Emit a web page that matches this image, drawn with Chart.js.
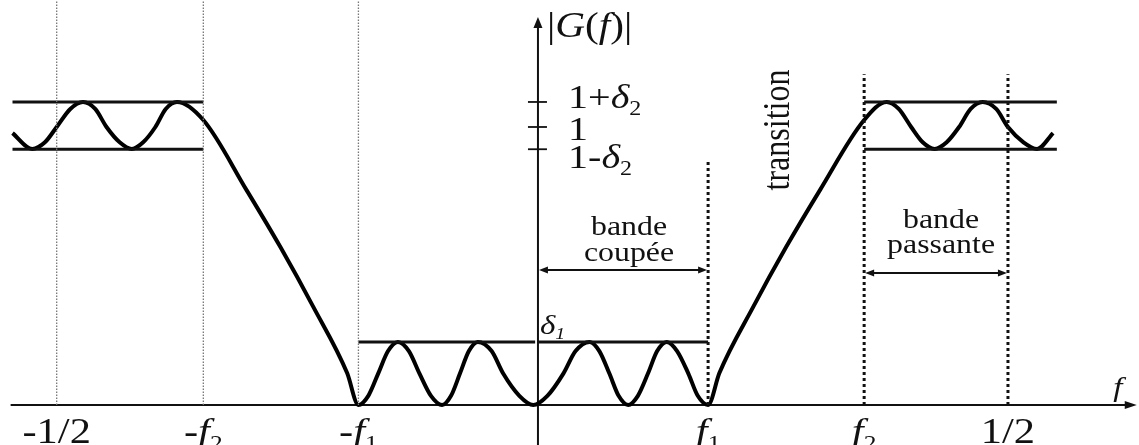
<!DOCTYPE html>
<html><head><meta charset="utf-8">
<script src="https://cdn.jsdelivr.net/npm/chart.js@4/dist/chart.umd.min.js"></script>
<style>html,body{margin:0;padding:0;background:#fff}#wrap{width:1139px;height:445px;position:relative}</style>
</head><body><div id="wrap"><canvas id="c"></canvas></div>
<script>
// |G(f)| (normalised frequency, 1/2 = 0.5)
const freq = [
  -0.559, -0.538, -0.5245, -0.512, -0.4975, -0.484, -0.471, -0.459, -0.445, -0.432,
  -0.420, -0.407, -0.396, -0.384, -0.356, -0.310, -0.274, -0.239, -0.203, -0.191,
  -0.1805, -0.170, -0.1595, -0.149, -0.1373, -0.126, -0.1138, -0.102, -0.0925, -0.083,
  -0.0735, -0.064, -0.0493, -0.037, -0.0198, -0.005, 0.010, 0.027, 0.040, 0.055,
  0.0653, 0.076, 0.0858, 0.096, 0.1063, 0.117, 0.1268, 0.137, 0.148, 0.160,
  0.170, 0.181, 0.193, 0.229, 0.264, 0.300, 0.347, 0.371, 0.3838, 0.397,
  0.4093, 0.422, 0.4348, 0.448, 0.4603, 0.473, 0.4875, 0.500, 0.5165, 0.531,
  0.548];
const gain = [
  0.978, 0.921, 0.945, 1.0, 1.065, 1.09, 1.065, 1.0, 0.945, 0.921,
  0.945, 1.0, 1.065, 1.09, 1.025, 0.773, 0.568, 0.353, 0.115, 0,
  0.033, 0.113, 0.194, 0.227, 0.194, 0.113, 0.033, 0, 0.033, 0.113,
  0.194, 0.227, 0.194, 0.113, 0.033, 0, 0.033, 0.113, 0.194, 0.227,
  0.194, 0.113, 0.033, 0, 0.033, 0.113, 0.194, 0.227, 0.194, 0.113,
  0.033, 0, 0.115, 0.353, 0.568, 0.773, 1.025, 1.09, 1.065, 1.0,
  0.945, 0.921, 0.945, 1.0, 1.065, 1.09, 1.065, 1.0, 0.945, 0.921,
  0.978];

// characteristic frequencies
const xTickValues = [-0.512, -0.356, -0.191, 0.181, 0.347, 0.500];
const xTickLabels = ['-1/2', '-f_2', '-f_1', 'f_1', 'f_2', '1/2'];
// magnitude ticks
const yTickValues = [1.09, 1.0, 0.92];
const yTickLabels = ['1+δ_2', '1', '1-δ_2'];

// tolerance template
const passLow = 0.92, passHigh = 1.09, stopHigh = 0.227;
const leftPass = [-0.559, -0.356];
const rightPass = [0.347, 0.552];
const stopLeft = [-0.191, -0.003];
const stopRight = [0.0, 0.181];
// dotted markers: [frequency, top magnitude]
const thinMarkers = [[-0.512, 1.46], [-0.356, 1.46], [-0.191, 1.46]];
const boldMarkers = [[0.181, 0.874], [0.347, 1.19], [0.500, 1.19]];
// band arrows: [from, to, magnitude]
const stopArrow = [0.0, 0.181, 0.486];
const passArrow = [0.347, 0.500, 0.475];

const FONT = '"Liberation Serif","Times New Roman",serif';
const SX = 1.18;
const INK = '#111';

function seg(a, b, y) { return [{x: a, y: y}, {x: b, y: y}]; }
function vert(f, top) { return [{x: f, y: 0}, {x: f, y: top}]; }

const datasets = [];
thinMarkers.forEach(m => datasets.push({data: vert(m[0], m[1]), borderColor: '#777', borderWidth: 1.3, borderDash: [1.5, 1.5]}));
boldMarkers.forEach(m => datasets.push({data: vert(m[0], m[1]), borderColor: '#111', borderWidth: 3, borderDash: [3, 3]}));
[seg(leftPass[0], leftPass[1], passHigh), seg(leftPass[0], leftPass[1], passLow),
 seg(rightPass[0], rightPass[1], passHigh), seg(rightPass[0], rightPass[1], passLow),
 seg(stopLeft[0], stopLeft[1], stopHigh), seg(stopRight[0], stopRight[1], stopHigh)]
 .forEach(d => datasets.push({data: d, borderColor: INK, borderWidth: 3}));
datasets.push({data: freq.map((f, i) => ({x: f, y: gain[i]})), borderColor: '#000', borderWidth: 4,
  cubicInterpolationMode: 'monotone', borderJoinStyle: 'round'});
datasets.forEach(d => { d.pointRadius = 0; d.fill = false; d.clip = false; if (!d.cubicInterpolationMode) d.tension = 0; });

function tokens(str) {
  const out = [];
  for (let i = 0; i < str.length; i++) {
    const c = str[i];
    if (c === '_') { out.push({t: str[i + 1], sub: true}); i++; }
    else out.push({t: c, sub: false, it: 'fGδ'.includes(c)});
  }
  return out;
}
function drawRich(ctx, str, x, y, size, align, subItalic) {
  const tk = tokens(str);
  let total = 0;
  tk.forEach(o => {
    const s = o.sub ? size * 0.6 : size;
    o.font = ((o.it || (o.sub && subItalic)) ? 'italic ' : '') + s + 'px ' + FONT;
    ctx.font = o.font;
    o.w = ctx.measureText(o.t).width * SX;
    total += o.w;
  });
  let cx = align === 'center' ? x - total / 2 : x;
  ctx.textAlign = 'left'; ctx.textBaseline = 'alphabetic';
  tk.forEach(o => {
    ctx.save(); ctx.font = o.font;
    ctx.translate(cx, y + (o.sub ? size * 0.2 : 0)); ctx.scale(SX, 1);
    ctx.fillText(o.t, 0, 0); ctx.restore();
    cx += o.w;
  });
}
function arrowHead(ctx, x, y, dx, dy, len, hw) {
  ctx.beginPath();
  ctx.moveTo(x, y);
  ctx.lineTo(x - dx * len - dy * hw, y - dy * len + dx * hw);
  ctx.lineTo(x - dx * len + dy * hw, y - dy * len - dx * hw);
  ctx.closePath(); ctx.fill();
}

const diagram = {
  id: 'diagram',
  beforeDatasetsDraw(c) {
    const ctx = c.ctx, X = c.scales.x, Y = c.scales.y;
    const px = v => X.getPixelForValue(v), py = v => Y.getPixelForValue(v);
    ctx.save(); ctx.strokeStyle = INK; ctx.fillStyle = INK; ctx.lineWidth = 2;
    // f axis
    const x0 = px(-0.561), x1 = px(0.637), yb = py(0);
    ctx.beginPath(); ctx.moveTo(x0, yb); ctx.lineTo(x1 - 8, yb); ctx.stroke();
    arrowHead(ctx, x1, yb, 1, 0, 12, 4);
    // |G| axis
    const xa = px(0), yt = py(1.396);
    ctx.beginPath(); ctx.moveTo(xa, c.chartArea.bottom); ctx.lineTo(xa, yt + 8); ctx.stroke();
    arrowHead(ctx, xa, yt, 0, -1, 11, 4.5);
    // magnitude ticks
    ctx.lineWidth = 1.8;
    yTickValues.forEach(v => { ctx.beginPath(); ctx.moveTo(xa - 10, py(v)); ctx.lineTo(xa + 9, py(v)); ctx.stroke(); });
    // band arrows
    ctx.lineWidth = 2;
    [stopArrow, passArrow].forEach(a => {
      const xl = px(a[0]), xr = px(a[1]), ya = py(a[2]);
      ctx.beginPath(); ctx.moveTo(xl + 4, ya); ctx.lineTo(xr - 4, ya); ctx.stroke();
      arrowHead(ctx, xl + 1, ya, -1, 0, 9, 3.5);
      arrowHead(ctx, xr - 1, ya, 1, 0, 9, 3.5);
    });
    ctx.restore();
  },
  afterDatasetsDraw(c) {
    const ctx = c.ctx, X = c.scales.x, Y = c.scales.y;
    const px = v => X.getPixelForValue(v), py = v => Y.getPixelForValue(v);
    ctx.save(); ctx.fillStyle = INK;
    const yb = py(0), xa = px(0);
    xTickValues.forEach((v, i) => drawRich(ctx, xTickLabels[i], px(v), yb + 38, 36, 'center'));
    const yOff = [6, 13, 19];
    yTickValues.forEach((v, i) => drawRich(ctx, yTickLabels[i], xa + 30, py(v) + yOff[i], 34, 'left'));
    drawRich(ctx, '|G(f)|', xa + 9, 37, 35, 'left');
    drawRich(ctx, 'δ_1', xa + 2, py(stopHigh) - 8, 28, 'left', true);
    drawRich(ctx, 'f', px(0.612), yb - 9, 28, 'left');
    const cs = px((stopArrow[0] + stopArrow[1]) / 2) + 6;
    drawRich(ctx, 'bande', cs, py(stopArrow[2]) - 35, 27, 'center');
    drawRich(ctx, 'coupée', cs, py(stopArrow[2]) - 9, 27, 'center');
    const cp = px((passArrow[0] + passArrow[1]) / 2) + 5;
    drawRich(ctx, 'bande', cp, py(passArrow[2]) - 45, 27, 'center');
    drawRich(ctx, 'passante', cp, py(passArrow[2]) - 20, 27, 'center');
    // rotated "transition"
    ctx.save();
    ctx.translate(px((stopRight[1] + rightPass[0]) / 2) + 3, 130);
    ctx.rotate(-Math.PI / 2); ctx.scale(1, SX);
    ctx.font = '32px ' + FONT; ctx.textAlign = 'center'; ctx.textBaseline = 'alphabetic';
    ctx.fillText('transition', 0, 0);
    ctx.restore();
    ctx.restore();
  }
};

new Chart(document.getElementById('c'), {
  type: 'line',
  data: {datasets: datasets},
  options: {
    responsive: true, maintainAspectRatio: false, animation: false,
    layout: {padding: 0},
    plugins: {legend: {display: false}, tooltip: {enabled: false}},
    scales: {
      x: {type: 'linear', min: -0.5723, max: 0.6394, display: false},
      y: {type: 'linear', min: -0.1439, max: 1.4568, display: false}
    }
  },
  plugins: [diagram]
});
</script></body></html>
